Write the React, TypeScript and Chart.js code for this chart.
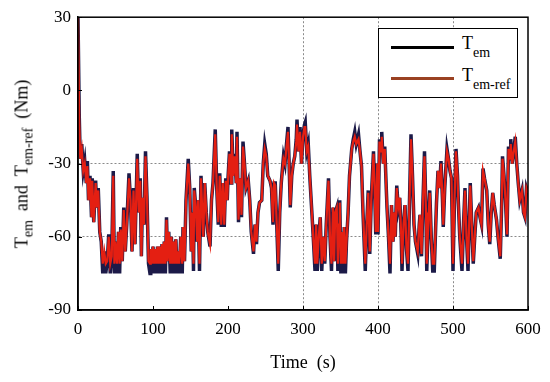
import React, { useEffect, useRef } from "react";
import { Chart, registerables } from "chart.js";

Chart.register(...registerables);

const xTicks = [0, 100, 200, 300, 400, 500, 600];
const yTicks = [-90, -60, -30, 0, 30];
const xGridAt = [300, 400, 500];
const yGridAt = [-60, -30];

const temPoints: [number, number][] = [
  [0, 30], [1.7, -11], [3, -28], [5, -22], [7, -33], [9, -29], [11, -38], [12.5, -29], [14, -45], [16, -35],
  [18, -52], [19, -36], [21, -54], [23.5, -37], [25, -48], [27, -40], [29, -58], [31, -62], [33, -75], [35, -66],
  [37, -75], [39, -70], [41, -59], [43, -75], [45, -68], [47, -33], [48.5, -75], [50, -62], [52, -75], [54, -58],
  [55.5, -75], [57, -56], [59, -70], [61, -48], [63, -66], [65, -55], [68, -34], [70, -45], [72, -66], [74, -40],
  [76, -63], [79, -26], [81, -50], [83, -36], [84.5, -68], [86, -44], [88, -55], [90, -25], [92, -44], [94, -71],
  [96, -75], [97, -65], [98.5, -75], [100, -64], [101.5, -75], [103, -65], [104.5, -75], [106, -64], [107.5, -75], [109, -64],
  [110.5, -75], [112, -63], [113.5, -75], [115, -62], [116.5, -75], [118, -52], [119.5, -70], [121, -58], [123, -75], [124.5, -60],
  [126, -75], [127.5, -62], [129, -75], [130.5, -61], [132, -75], [133.5, -66], [135, -75], [137, -60], [139, -75], [140, -56],
  [142, -70], [144, -45], [147, -28], [149, -40], [151, -66], [152.5, -50], [154, -74], [155, -40], [157, -48], [159, -62],
  [160, -45], [162, -74], [164, -35], [166, -52], [167, -60], [169, -38], [171, -50], [173, -58], [176, -64], [178, -45],
  [180, -38], [183, -16], [185, -40], [187, -55], [189, -34], [191, -56], [193, -38], [195, -56], [197, -36], [199, -45],
  [200, -36], [202, -25], [204, -38], [205, -16], [207, -35], [209, -26], [211, -38], [212, -17], [214, -54], [216, -36],
  [218, -52], [220, -21], [222, -30], [224, -40], [227, -37], [229, -45], [231, -58], [234, -67], [236, -55], [238, -63],
  [240, -50], [242, -46], [245, -45], [247, -30], [249, -22], [251, -26], [253, -35], [256, -37], [258, -40], [260, -55],
  [261.5, -38], [263, -38], [265, -55], [267, -74], [269, -50], [271, -38], [274, -27], [276, -30], [278, -22], [280, -15],
  [281.5, -30], [283, -48], [285, -35], [287, -30], [289, -27], [291, -20], [292, -12], [294, -25], [296, -15], [298, -30],
  [300, -18], [302, -14], [303, -13], [305, -25], [307, -22], [309, -35], [312, -51], [314, -62], [316, -74], [317.5, -55],
  [319, -74], [321, -60], [323, -52], [325, -74], [327, -60], [329, -71], [331, -55], [334, -36], [336, -60], [338, -74],
  [340, -48], [341.5, -70], [343, -50], [345, -48], [346.5, -74], [348, -55], [349, -45], [350.5, -75], [352, -58], [353.5, -75],
  [355, -56], [356.5, -75], [358, -62], [360, -51], [362, -35], [365, -24], [367, -20], [369, -17], [371, -22], [374, -18],
  [376, -25], [378, -31], [380, -50], [383, -74], [385, -55], [387, -41], [389, -67], [391, -45], [394, -25], [395.5, -40],
  [397, -59], [399, -30], [400, -59], [402, -20], [404, -25], [405, -17], [407, -30], [409, -23], [411, -40], [412, -48],
  [414, -60], [416, -75], [418, -47], [420, -62], [421.5, -50], [423, -60], [425, -39], [427, -48], [429, -44], [431, -60],
  [432, -74], [434, -55], [436, -47], [438, -65], [440, -74], [442, -45], [444, -18], [446, -35], [448, -55], [450, -62],
  [453, -67], [455, -55], [456, -51], [458, -68], [460, -45], [462, -25], [464, -50], [465, -74], [467, -55], [469, -41],
  [471, -60], [473, -74], [475, -74], [477, -55], [478, -46], [480, -33], [482, -40], [484, -29], [486, -45], [487, -56],
  [489, -40], [492, -24], [494, -28], [496, -33], [498, -36], [500, -74], [502, -45], [504, -24], [506, -35], [507, -45],
  [509, -60], [512, -74], [514, -55], [516, -40], [518, -60], [520, -74], [522, -50], [523, -38], [525, -55], [527, -71],
  [529, -60], [531, -50], [534, -48], [536, -52], [538, -55], [540, -32], [542, -36], [545, -41], [547, -55], [549, -63],
  [551, -50], [553, -42], [555, -47], [558, -53], [560, -60], [563, -69], [565, -45], [566, -27], [568, -35], [570, -45],
  [572, -60], [574, -23], [576, -28], [577, -20], [579, -30], [581, -25], [583, -19], [585, -30], [587, -38], [589, -45],
  [592, -41], [594, -50], [596, -52], [598, -40], [600, -42],
];

const refPoints: [number, number][] = [
  [0, 30], [1.7, -13], [3, -28], [5, -24], [7, -33], [9, -30], [11, -38], [12.5, -31], [14, -45], [16, -36],
  [18, -52], [19, -37], [21, -54], [23.5, -38], [25, -48], [27, -41], [29, -58], [31, -62], [33, -71], [35, -66],
  [37, -71], [39, -70], [41, -60], [43, -71], [45, -68], [47, -35], [48.5, -71], [50, -62], [52, -71], [54, -58],
  [55.5, -71], [57, -57], [59, -70], [61, -49], [63, -66], [65, -55], [68, -36], [70, -45], [72, -66], [74, -41],
  [76, -63], [79, -28], [81, -50], [83, -37], [84.5, -68], [86, -44], [88, -55], [90, -27], [92, -44], [94, -70],
  [96, -71], [97, -65], [98.5, -71], [100, -64], [101.5, -71], [103, -65], [104.5, -71], [106, -64], [107.5, -71], [109, -64],
  [110.5, -71], [112, -63], [113.5, -71], [115, -62], [116.5, -71], [118, -53], [119.5, -70], [121, -58], [123, -71], [124.5, -60],
  [126, -71], [127.5, -62], [129, -71], [130.5, -61], [132, -71], [133.5, -66], [135, -71], [137, -60], [139, -71], [140, -56],
  [142, -70], [144, -45], [147, -30], [149, -40], [151, -66], [152.5, -50], [154, -71], [155, -41], [157, -48], [159, -62],
  [160, -45], [162, -71], [164, -36], [166, -52], [167, -60], [169, -38], [171, -50], [173, -58], [176, -63], [178, -45],
  [180, -38], [183, -18], [185, -40], [187, -54], [189, -35], [191, -55], [193, -38], [195, -55], [197, -37], [199, -45],
  [200, -36], [202, -26], [204, -38], [205, -18], [207, -35], [209, -27], [211, -38], [212, -19], [214, -53], [216, -36],
  [218, -51], [220, -23], [222, -30], [224, -40], [227, -37], [229, -45], [231, -58], [234, -66], [236, -55], [238, -62],
  [240, -50], [242, -46], [245, -45], [247, -30], [249, -24], [251, -27], [253, -35], [256, -37], [258, -40], [260, -54],
  [261.5, -38], [263, -39], [265, -55], [267, -71], [269, -50], [271, -38], [274, -28], [276, -30], [278, -23], [280, -17],
  [281.5, -30], [283, -47], [285, -35], [287, -30], [289, -27], [291, -21], [292, -14], [294, -25], [296, -17], [298, -30],
  [300, -19], [302, -15], [303, -15], [305, -25], [307, -23], [309, -35], [312, -51], [314, -62], [316, -71], [317.5, -55],
  [319, -71], [321, -60], [323, -52], [325, -71], [327, -60], [329, -70], [331, -55], [334, -37], [336, -60], [338, -71],
  [340, -48], [341.5, -70], [343, -50], [345, -48], [346.5, -71], [348, -55], [349, -46], [350.5, -71], [352, -58], [353.5, -71],
  [355, -56], [356.5, -71], [358, -62], [360, -51], [362, -35], [365, -24], [367, -21], [369, -19], [371, -22], [374, -20],
  [376, -25], [378, -31], [380, -50], [383, -71], [385, -55], [387, -42], [389, -66], [391, -45], [394, -26], [395.5, -40],
  [397, -58], [399, -30], [400, -58], [402, -21], [404, -25], [405, -19], [407, -30], [409, -24], [411, -40], [412, -48],
  [414, -60], [416, -71], [418, -47], [420, -62], [421.5, -50], [423, -60], [425, -40], [427, -48], [429, -44], [431, -60],
  [432, -71], [434, -55], [436, -47], [438, -65], [440, -71], [442, -45], [444, -20], [446, -35], [448, -55], [450, -62],
  [453, -66], [455, -55], [456, -51], [458, -67], [460, -45], [462, -27], [464, -50], [465, -71], [467, -55], [469, -42],
  [471, -60], [473, -71], [475, -71], [477, -55], [478, -46], [480, -33], [482, -40], [484, -30], [486, -45], [487, -55],
  [489, -40], [492, -25], [494, -28], [496, -33], [498, -36], [500, -71], [502, -45], [504, -25], [506, -35], [507, -45],
  [509, -60], [512, -71], [514, -55], [516, -41], [518, -60], [520, -71], [522, -50], [523, -39], [525, -55], [527, -70],
  [529, -60], [531, -50], [534, -48], [536, -52], [538, -55], [540, -33], [542, -36], [545, -41], [547, -55], [549, -62],
  [551, -50], [553, -42], [555, -47], [558, -53], [560, -60], [563, -68], [565, -45], [566, -28], [568, -35], [570, -45],
  [572, -59], [574, -24], [576, -28], [577, -22], [579, -30], [581, -25], [583, -21], [585, -30], [587, -38], [589, -45],
  [592, -41], [594, -50], [596, -52], [598, -40], [600, -42],
];

const TEM_COLOR = "#1c1a48";
const REF_COLOR = "#e41f12";
const FONT = "'Liberation Serif', 'Times New Roman', serif";

export default function App() {
  const canvasRef = useRef<HTMLCanvasElement | null>(null);

  useEffect(() => {
    const canvas = canvasRef.current;
    if (!canvas) return;

    const framePlugin = {
      id: "frame",
      afterDraw(chart: any) {
        const { ctx, chartArea: a, scales } = chart;
        ctx.save();
        ctx.strokeStyle = "#000";
        ctx.lineWidth = 1.5;
        ctx.strokeRect(a.left, a.top, a.right - a.left, a.bottom - a.top);
        ctx.lineWidth = 1;
        ctx.beginPath();
        xTicks.forEach((v) => {
          const x = Math.round(scales.x.getPixelForValue(v)) + 0.5;
          ctx.moveTo(x, a.bottom);
          ctx.lineTo(x, a.bottom - 4);
        });
        yTicks.forEach((v) => {
          const y = Math.round(scales.y.getPixelForValue(v)) + 0.5;
          ctx.moveTo(a.left, y);
          ctx.lineTo(a.left + 4, y);
        });
        ctx.stroke();
        ctx.restore();
      },
    };

    const chart = new Chart(canvas, {
      type: "line",
      data: {
        datasets: [
          {
            label: "T_em-ref",
            data: refPoints.map(([x, y]) => ({ x, y })),
            borderColor: REF_COLOR,
            borderWidth: 2.2,
            pointRadius: 0,
            tension: 0,
            order: 1,
          },
          {
            label: "T_em",
            data: temPoints.map(([x, y]) => ({ x, y })),
            borderColor: TEM_COLOR,
            borderWidth: 3.5,
            pointRadius: 0,
            tension: 0,
            order: 2,
          },
        ],
      },
      plugins: [framePlugin],
      options: {
        animation: false,
        responsive: false,
        maintainAspectRatio: false,
        layout: { padding: { left: 0, right: 22, top: 17, bottom: 0 } },
        plugins: {
          legend: { display: false },
          tooltip: { enabled: false },
        },
        scales: {
          x: {
            type: "linear",
            min: 0,
            max: 600,
            afterFit: (s: any) => {
              s.height = 72;
            },
            afterBuildTicks: (s: any) => {
              s.ticks = xTicks.map((v) => ({ value: v }));
            },
            ticks: {
              color: "#000",
              padding: 9,
              font: { family: FONT, size: 17 },
              maxRotation: 0,
            },
            grid: {
              drawTicks: false,
              lineWidth: 1,
              color: (c: any) => (xGridAt.includes(c.tick?.value) ? "#8a8a8a" : "rgba(0,0,0,0)"),
            },
            border: { display: true, color: "#000", width: 1.5, dash: [2, 2] },
            title: {
              display: true,
              text: "Time  (s)",
              color: "#000",
              font: { family: FONT, size: 18 },
              padding: { top: 4, bottom: 8 },
            },
          },
          y: {
            type: "linear",
            min: -90,
            max: 30,
            afterFit: (s: any) => {
              s.width = 78;
            },
            afterBuildTicks: (s: any) => {
              s.ticks = yTicks.map((v) => ({ value: v }));
            },
            ticks: {
              color: "#000",
              padding: 7,
              font: { family: FONT, size: 17 },
            },
            grid: {
              drawTicks: false,
              lineWidth: 1,
              color: (c: any) => (yGridAt.includes(c.tick?.value) ? "#8a8a8a" : "rgba(0,0,0,0)"),
            },
            border: { display: true, color: "#000", width: 1.5, dash: [2, 2] },
          },
        },
      },
    });

    return () => chart.destroy();
  }, []);

  const subStyle: React.CSSProperties = { fontSize: 14, verticalAlign: "-5px", lineHeight: 1 };
  const legendSub: React.CSSProperties = { fontSize: 14, position: "relative", top: 8 };

  return (
    <div style={{ position: "fixed", left: 0, top: 0, width: 550, height: 382, background: "#fff", fontFamily: FONT }}>
      <canvas ref={canvasRef} width={550} height={382} style={{ display: "block" }} />
      <div
        style={{
          position: "absolute",
          left: 24,
          top: 164,
          transform: "translate(-50%, -50%) rotate(-90deg)",
          whiteSpace: "nowrap",
          fontSize: 18,
          color: "#000",
          lineHeight: 1,
        }}
      >
        T<span style={subStyle}>em</span>&nbsp;&nbsp;and&nbsp;&nbsp;T<span style={subStyle}>em-ref</span>&nbsp;&nbsp;(Nm)
      </div>
      <div
        style={{
          position: "absolute",
          left: 378,
          top: 28,
          width: 140,
          height: 70,
          boxSizing: "border-box",
          border: "1.5px solid #000",
          background: "#fff",
        }}
      >
        <div style={{ position: "absolute", left: 12, top: 17, width: 63, height: 3, background: "#000" }} />
        <div style={{ position: "absolute", left: 83, top: 5, fontSize: 18, lineHeight: 1, whiteSpace: "nowrap" }}>
          T<span style={legendSub}>em</span>
        </div>
        <div style={{ position: "absolute", left: 12, top: 48, width: 63, height: 3, background: "#9a4122" }} />
        <div style={{ position: "absolute", left: 83, top: 37, fontSize: 18, lineHeight: 1, whiteSpace: "nowrap" }}>
          T<span style={legendSub}>em-ref</span>
        </div>
      </div>
    </div>
  );
}
